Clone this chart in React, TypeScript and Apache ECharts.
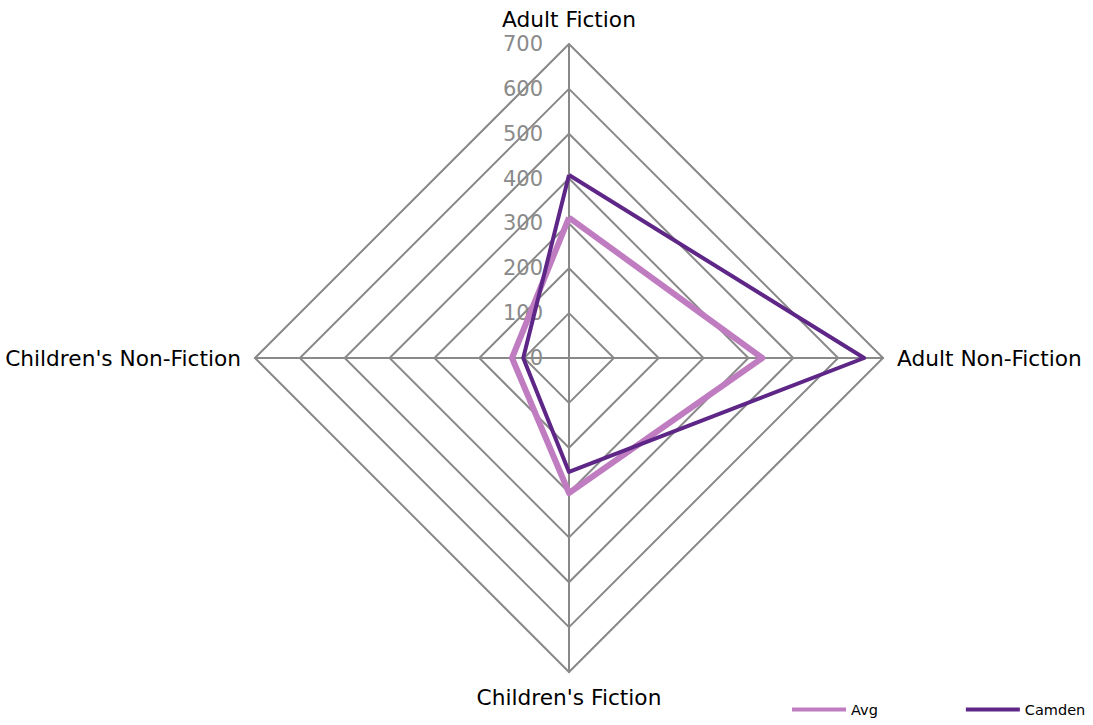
import React, { useEffect, useRef } from "react";
import * as echarts from "echarts";

const categories = ["Adult Fiction", "Children's Non-Fiction", "Children's Fiction", "Adult Non-Fiction"];
const avgValues = [313, 127, 301, 431];
const camdenValues = [408, 102, 254, 658];
const seriesNames = ["Avg", "Camden"];
const axisMax = 700;

export default function App() {
  const ref = useRef<HTMLDivElement>(null);
  useEffect(() => {
    if (!ref.current) return;
    const chart = echarts.init(ref.current, null, { renderer: "svg" });
    const font = "'DejaVu Sans', Verdana, sans-serif";
    chart.setOption({
      animation: false,
      backgroundColor: "#ffffff",
      legend: {
        data: seriesNames,
        left: 792,
        top: 702,
        padding: 0,
        width: 301,
        icon: "rect",
        itemWidth: 54,
        itemHeight: 4,
        itemGap: 88,
        textStyle: { fontFamily: font, fontSize: 14.5, color: "#000" },
      },
      radar: {
        center: [569, 358],
        radius: 314,
        startAngle: 90,
        shape: "polygon",
        splitNumber: 7,
        nameGap: 14,
        axisName: { color: "#000", fontSize: 21.7, fontFamily: font },
        indicator: categories.map((c, i) => ({
          name: c,
          min: 0,
          max: axisMax,
          axisLabel: i === 0 ? { show: true } : { show: false },
        })),
        axisLine: { lineStyle: { color: "#898989", width: 2 } },
        splitLine: { lineStyle: { color: "#898989", width: 2 } },
        splitArea: { show: false },
        axisTick: { show: false },
        axisLabel: { show: false, color: "#8a8a8a", fontSize: 21, fontFamily: font, margin: 26 },
      },
      series: [
        {
          type: "radar",
          symbol: "none",
          data: [
            { name: "Avg", value: avgValues, lineStyle: { color: "#C07CC0", width: 6 }, itemStyle: { color: "#C07CC0" } },
            { name: "Camden", value: camdenValues, lineStyle: { color: "#5E2787", width: 4 }, itemStyle: { color: "#5E2787" } },
          ],
        },
      ],
    });
    return () => chart.dispose();
  }, []);
  return <div ref={ref} style={{ position: "fixed", left: 0, top: 0, width: 1093, height: 725 }} />;
}
